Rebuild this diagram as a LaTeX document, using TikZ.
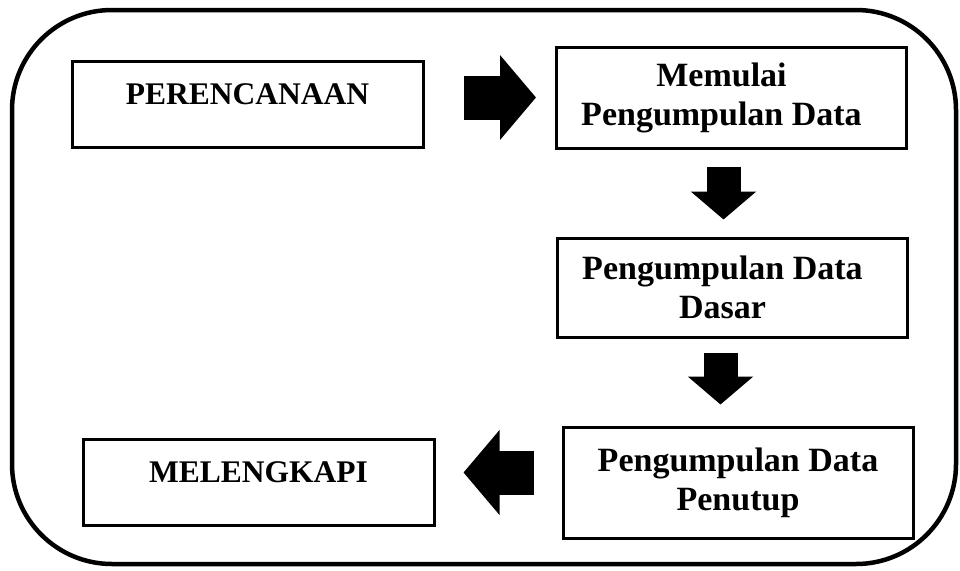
\documentclass[tikz,border=0pt]{standalone}
\usepackage{fontspec}
\setmainfont{Liberation Serif}
\usetikzlibrary{arrows.meta}

\tikzset{
  onebox/.style={draw, line width=3pt, minimum width=351pt, minimum height=86pt,
    text height=21pt, text depth=21pt,
    font=\fontsize{31.5}{39}\selectfont\bfseries},
  twobox/.style={draw, line width=3pt, minimum width=350pt, align=center,
    font=\fontsize{34}{39}\selectfont\bfseries},
  hbarrow/.style={line width=44pt, -{Triangle[length=36pt, width=83pt]}},
  vbarrow/.style={line width=34pt, -{Triangle[length=28pt, width=64pt]}}
}

\begin{document}
\begin{tikzpicture}[x=1pt,y=-1pt]
\useasboundingbox (0,0) rectangle (960,570);
\draw[line width=4.5pt, rounded corners=100pt] (12,10) rectangle (956,564);

\node[onebox] (plan) at (247.5,104) {PERENCANAAN};
\node[twobox, minimum height=101pt] (start) at (731.5,97.5) {\kern-20pt Memulai\\\kern-20pt Pengumpulan Data};
\node[twobox, minimum height=99pt] (base) at (732.5,287.5) {\kern-20pt Pengumpulan Data\\\kern-20pt Dasar};
\node[twobox, minimum height=111pt] (close) at (738,482.5) {Pengumpulan Data\\Penutup};
\node[onebox] (finish) at (258.5,482) {MELENGKAPI};

\draw[hbarrow, shorten <=39pt, shorten >=19pt] (plan.east |- start.west) -- (start.west);
\draw[vbarrow, shorten <=17pt, shorten >=17pt] ([xshift=-8pt]start.south) -- ([xshift=-8pt]start.south |- base.north);
\draw[vbarrow, shorten <=14pt, shorten >=21pt] ([xshift=-12pt]base.south) -- ([xshift=-12pt]base.south |- close.north);
\draw[hbarrow, shorten <=28pt, shorten >=28pt] ([yshift=10pt]close.west) -- ([yshift=10pt]close.west -| finish.east);
\end{tikzpicture}
\end{document}
